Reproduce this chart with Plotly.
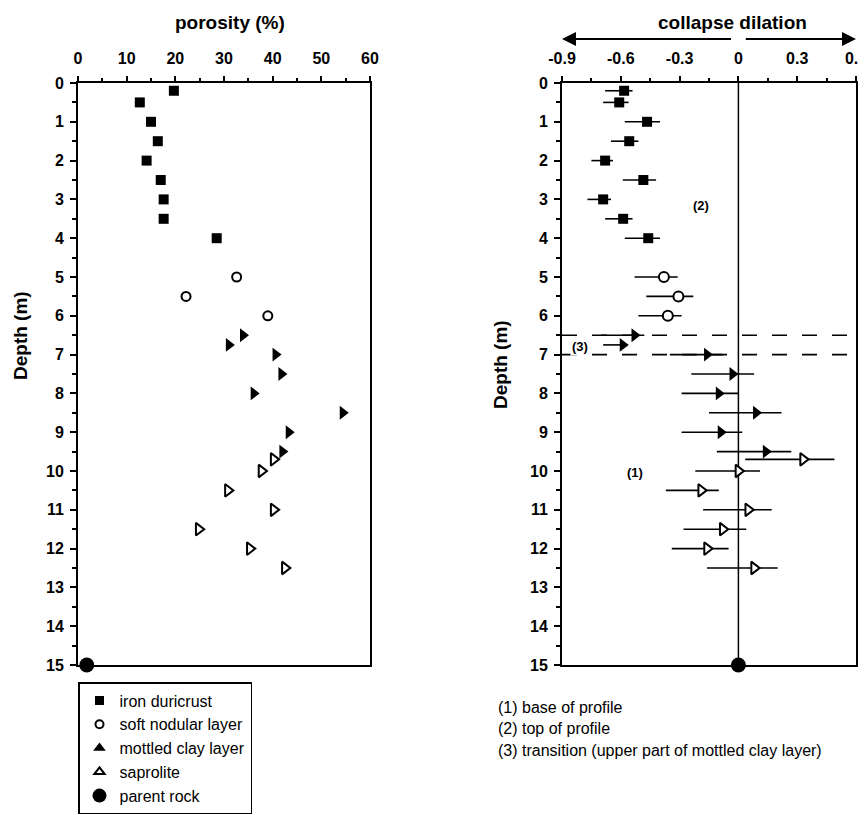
import plotly.graph_objects as go

# ---------------- data ----------------
# Porosity (%) vs depth (m)
por_iron_depth = [0.2, 0.5, 1.0, 1.5, 2.0, 2.5, 3.0, 3.5, 4.0]
por_iron = [19.7, 12.7, 15.0, 16.4, 14.1, 17.0, 17.6, 17.6, 28.5]
por_soft_depth = [5.0, 5.5, 6.0]
por_soft = [32.6, 22.2, 39.0]
por_mott_depth = [6.5, 6.75, 7.0, 7.5, 8.0, 8.5, 9.0, 9.5]
por_mott = [33.9, 31.0, 40.6, 41.8, 36.1, 54.4, 43.3, 42.0]
por_sap_depth = [9.7, 10.0, 10.5, 11.0, 11.5, 12.0, 12.5]
por_sap = [40.2, 37.7, 30.8, 40.2, 24.8, 35.3, 42.5]
por_rock_depth = [15.0]
por_rock = [1.8]

# Collapse / dilation vs depth (m), with low/high range
col_iron = [-0.583, -0.608, -0.466, -0.557, -0.68, -0.485, -0.69, -0.588, -0.46]
col_iron_lo = [-0.68, -0.69, -0.58, -0.65, -0.75, -0.59, -0.77, -0.68, -0.58]
col_iron_hi = [-0.54, -0.56, -0.40, -0.51, -0.64, -0.42, -0.65, -0.54, -0.40]
col_soft = [-0.38, -0.306, -0.36]
col_soft_lo = [-0.53, -0.47, -0.51]
col_soft_hi = [-0.31, -0.23, -0.29]
col_mott = [-0.53, -0.59, -0.16, -0.03, -0.10, 0.09, -0.09, 0.14]
col_mott_lo = [-0.70, -0.69, -0.35, -0.24, -0.29, -0.15, -0.29, -0.11]
col_mott_hi = [-0.48, -0.57, -0.08, 0.08, 0.0, 0.22, 0.02, 0.27]
col_sap = [0.33, 0.0, -0.19, 0.05, -0.08, -0.16, 0.08]
col_sap_lo = [0.035, -0.22, -0.37, -0.18, -0.28, -0.34, -0.16]
col_sap_hi = [0.49, 0.11, -0.10, 0.17, 0.04, -0.05, 0.20]
col_rock = [0.0]

transition_depths = [6.5, 7.0]

legend_names = ["iron duricrust", "soft nodular layer", "mottled clay layer",
                "saprolite", "parent rock"]
notes = ["(1) base of profile", "(2) top of profile",
         "(3) transition (upper part of mottled clay layer)"]

# ---------------- figure ----------------
OFF = 8  # page body margin of the html document
W, H = 866 - OFF, 815 - OFF
FONT = "Liberation Sans, Arial, Helvetica, sans-serif"
BLACK = "black"

def px_x(p):
    return (p - OFF) / W

def px_y(p):
    return 1 - (p - OFF) / H

fig = go.Figure()

sq = dict(symbol="square", size=10, color=BLACK)
circ_open = dict(symbol="circle-open", size=9, color=BLACK, line=dict(width=2, color=BLACK))
tri_fill = dict(symbol="triangle-right", size=12, color=BLACK, line=dict(width=0))
tri_open = dict(symbol="triangle-right-open", size=11, color=BLACK, line=dict(width=2, color=BLACK))
rock = dict(symbol="circle", size=15, color=BLACK)

# Left panel: porosity
for xs, ys, mk in [(por_iron, por_iron_depth, sq), (por_soft, por_soft_depth, circ_open),
                   (por_mott, por_mott_depth, tri_fill), (por_sap, por_sap_depth, tri_open),
                   (por_rock, por_rock_depth, rock)]:
    fig.add_trace(go.Scatter(x=xs, y=ys, mode="markers", marker=mk, xaxis="x", yaxis="y",
                             showlegend=False, cliponaxis=False))

# Right panel: collapse/dilation with error ranges
def err(vals, lo, hi):
    plus = [h - v for v, h in zip(vals, hi)]
    minus = [v - l for v, l in zip(vals, lo)]
    return dict(type="data", array=plus, arrayminus=minus, color=BLACK,
                thickness=1.6, width=0, symmetric=False)

fig.add_trace(go.Scatter(x=[0, 0], y=[0, 15], mode="lines", line=dict(color=BLACK, width=1.5),
                         xaxis="x2", yaxis="y2", showlegend=False, hoverinfo="skip"))

for xs, ys, lo, hi, mk in [(col_iron, por_iron_depth, col_iron_lo, col_iron_hi, sq),
                           (col_soft, por_soft_depth, col_soft_lo, col_soft_hi, circ_open),
                           (col_mott, por_mott_depth, col_mott_lo, col_mott_hi, tri_fill),
                           (col_sap, por_sap_depth, col_sap_lo, col_sap_hi, tri_open)]:
    mk2 = dict(mk)
    if mk2["symbol"] == "circle-open":
        mk2 = dict(symbol="circle", size=10, color="white", line=dict(width=2, color=BLACK))
    if mk2["symbol"] == "triangle-right-open":
        mk2 = dict(symbol="triangle-right", size=11, color="white", line=dict(width=2, color=BLACK))
    fig.add_trace(go.Scatter(x=xs, y=ys, mode="markers", marker=mk2, error_x=err(xs, lo, hi),
                             xaxis="x2", yaxis="y2", showlegend=False, cliponaxis=False))
fig.add_trace(go.Scatter(x=col_rock, y=por_rock_depth, mode="markers", marker=rock,
                         xaxis="x2", yaxis="y2", showlegend=False, cliponaxis=False))

# Legend entries (upward triangles as in the original legend)
leg_markers = [
    dict(symbol="square", size=9, color=BLACK),
    dict(symbol="circle-open", size=8, color=BLACK, line=dict(width=2, color=BLACK)),
    dict(symbol="triangle-up", size=11, color=BLACK),
    dict(symbol="triangle-up-open", size=9, color=BLACK, line=dict(width=2, color=BLACK)),
    dict(symbol="circle", size=14, color=BLACK),
]
for name, mk in zip(legend_names, leg_markers):
    fig.add_trace(go.Scatter(x=[None], y=[None], mode="markers", marker=mk, name=name,
                             xaxis="x", yaxis="y", showlegend=True))

tickfont = dict(family=FONT, size=16, color=BLACK, weight="bold")
common_y = dict(range=[15, 0], tickmode="linear", tick0=0, dtick=1, ticks="outside",
                ticklen=6, tickwidth=2, tickcolor=BLACK, showgrid=False, zeroline=False,
                showline=True, linecolor=BLACK, linewidth=2, mirror=True, automargin=False,
                tickfont=tickfont, ticklabelstandoff=3, ticklabeloverflow="allow",
                minor=dict(ticks="outside", dtick=0.5, ticklen=4, tickwidth=2, tickcolor=BLACK))

fig.update_layout(
    width=W, height=H,
    margin=dict(l=0, r=0, t=0, b=0, autoexpand=False),
    paper_bgcolor="white", plot_bgcolor="white",
    font=dict(family=FONT, color=BLACK),
    xaxis=dict(domain=[px_x(78), px_x(370)], range=[0, 60], side="top", anchor="y",
               tickmode="linear", tick0=0, dtick=10, ticks="outside", ticklen=5, tickwidth=2,
               tickcolor=BLACK, showgrid=False, zeroline=False, showline=True, linecolor=BLACK,
               linewidth=2, mirror=True, tickfont=tickfont, ticklabelstandoff=6, automargin=False,
               ticklabeloverflow="allow",
               minor=dict(ticks="outside", dtick=5, ticklen=3, tickwidth=2, tickcolor=BLACK)),
    yaxis=dict(domain=[px_y(665), px_y(83)], anchor="x", **common_y),
    xaxis2=dict(domain=[px_x(562), px_x(856)], range=[-0.9, 0.6], side="top", anchor="y2",
                tickmode="array", tickvals=[-0.9, -0.6, -0.3, 0, 0.3, 0.6],
                ticktext=["-0.9", "-0.6", "-0.3", "0", "0.3", "0.6"],
                ticks="outside", ticklen=5, tickwidth=2, automargin=False,
                ticklabeloverflow="allow",
                tickcolor=BLACK, showgrid=False, zeroline=False, showline=True, linecolor=BLACK,
                linewidth=2, mirror=True, tickfont=tickfont, ticklabelstandoff=6,
                minor=dict(ticks="outside", dtick=0.15, tick0=0, ticklen=3, tickwidth=2, tickcolor=BLACK)),
    yaxis2=dict(domain=[px_y(665), px_y(83)], anchor="x2", **common_y),
    legend=dict(x=px_x(78), y=px_y(682), xanchor="left", yanchor="top",
                bordercolor=BLACK, borderwidth=1.5, bgcolor="white",
                font=dict(family=FONT, size=16, color=BLACK),
                itemsizing="trace", tracegroupgap=0, itemwidth=30),
)

# Transition dashed lines
for d in transition_depths:
    fig.add_shape(type="line", xref="x2", yref="y2", x0=-0.9, x1=0.6, y0=d, y1=d,
                  line=dict(color=BLACK, width=1.6, dash="longdash"))

ann = []
titlefont = dict(family=FONT, size=19, color=BLACK)
ann.append(dict(text="<b>porosity (%)</b>", x=px_x(230), y=px_y(23), xref="paper", yref="paper",
                xanchor="center", yanchor="middle", showarrow=False, font=titlefont))
ann.append(dict(text="<b>collapse dilation</b>", x=px_x(732), y=px_y(23), xref="paper", yref="paper",
                xanchor="center", yanchor="middle", showarrow=False, font=titlefont))
for xx, yy in [(20, 336), (500, 365)]:
    ann.append(dict(text="<b>Depth (m)</b>", x=px_x(xx), y=px_y(yy), xref="paper", yref="paper",
                    xanchor="center", yanchor="middle", showarrow=False, textangle=-90,
                    font=titlefont))
# collapse / dilation arrows
ann.append(dict(x=-0.9, y=px_y(39), xref="x2", yref="paper", ax=-0.03, ay=0,
                axref="x2", ayref="pixel", showarrow=True, arrowhead=2, arrowsize=1.4,
                arrowwidth=2, arrowcolor=BLACK, text=""))
ann.append(dict(x=0.6, y=px_y(39), xref="x2", yref="paper", ax=0.03, ay=0,
                axref="x2", ayref="pixel", showarrow=True, arrowhead=2, arrowsize=1.4,
                arrowwidth=2, arrowcolor=BLACK, text=""))
# zone labels
smallbold = dict(family=FONT, size=13, color=BLACK)
ann.append(dict(text="<b>(2)</b>", x=-0.19, y=3.15, xref="x2", yref="y2", showarrow=False,
                xanchor="center", yanchor="middle", font=smallbold))
ann.append(dict(text="<b>(1)</b>", x=-0.53, y=10.05, xref="x2", yref="y2", showarrow=False,
                xanchor="center", yanchor="middle", font=smallbold))
ann.append(dict(text="<b>(3)</b>", x=-0.81, y=6.8, xref="x2", yref="y2", showarrow=False,
                xanchor="center", yanchor="middle", font=smallbold, bgcolor="white"))
# notes
for i, t in enumerate(notes):
    ann.append(dict(text=t, x=px_x(496), y=px_y(707 + 21.5 * i), xref="paper", yref="paper",
                    xanchor="left", yanchor="middle", showarrow=False,
                    font=dict(family=FONT, size=16, color=BLACK)))
fig.update_layout(annotations=ann)

fig.write_html("out.html")
